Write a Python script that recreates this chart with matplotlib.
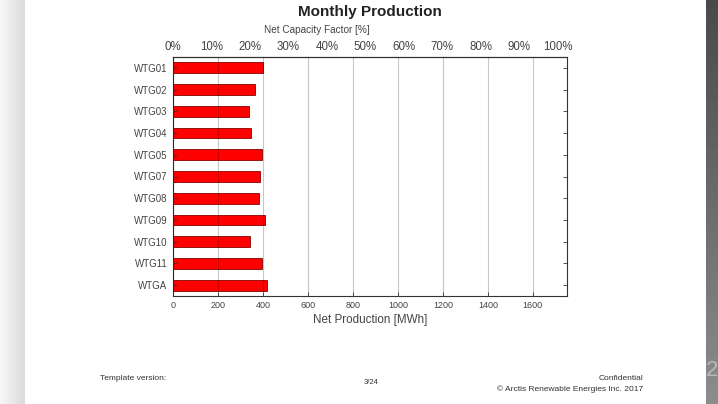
import matplotlib
import matplotlib.pyplot as plt
import numpy as np

matplotlib.use('Agg')

turbines = ["WTG01", "WTG02", "WTG03", "WTG04", "WTG05", "WTG07",
            "WTG08", "WTG09", "WTG10", "WTG11", "WTGA"]
production_mwh = [399, 364, 338, 347, 394, 385, 384, 409, 341, 396, 419]
prod_ticks = [0, 200, 400, 600, 800, 1000, 1200, 1400, 1600]
cf_ticks = [0, 10, 20, 30, 40, 50, 60, 70, 80, 90, 100]
rated_mw = 2.3
hours = 744
capacity_mwh = rated_mw * hours  # 100 % capacity factor for the month

plt.rcParams['font.family'] = ['Liberation Sans', 'DejaVu Sans']

fig = plt.figure(figsize=(7.18, 4.04), dpi=100)
fig.patch.set_facecolor('white')

# slide frame strips
left_strip = fig.add_axes([0, 0, 25 / 718, 1])
left_strip.imshow(np.linspace(0.97, 0.86, 50)[None, :], cmap='gray', vmin=0, vmax=1,
                  aspect='auto', extent=[0, 1, 0, 1])
left_strip.axis('off')
right_strip = fig.add_axes([706 / 718, 0, 12 / 718, 1])
right_strip.imshow(np.linspace(0.55, 0.29, 100)[:, None], cmap='gray', vmin=0, vmax=1,
                   aspect='auto', extent=[0, 1, 0, 1], origin='lower')
right_strip.axis('off')
fig.text(712 / 718, 1 - 370 / 404, "2", fontsize=16, color='#b8b8b8',
         ha='center', va='center')

ax = fig.add_axes([173 / 718, 1 - 296 / 404, 394 / 718, 239 / 404])
y = np.arange(len(turbines))
ax.barh(y, production_mwh, height=0.5, color='#ff0000', edgecolor='#8b0000', linewidth=0.6)
ax.set_xlim(0, 1752)
ax.set_ylim(len(turbines) - 0.5, -0.5)
ax.set_yticks(y)
ax.set_yticklabels(turbines, fontsize=7)
ax.set_xticks(prod_ticks)
ax.set_xticklabels([str(t) for t in prod_ticks], fontsize=6.5)
ax.set_axisbelow(False)
ax.grid(True, axis='x', color='black', alpha=0.22, linewidth=0.8)
ax.tick_params(direction='in', length=3, width=0.6, colors='#333333',
               labelcolor='#444444', right=True)
ax.tick_params(axis='y', pad=4)
for s in ax.spines.values():
    s.set_linewidth(0.8)
    s.set_color('#333333')
ax.set_xlabel("Net Production [MWh]", fontsize=8.4, color='#444444', labelpad=3)

top = ax.secondary_xaxis('top', functions=(lambda x: x / capacity_mwh * 100,
                                            lambda p: p * capacity_mwh / 100))
top.set_xticks(cf_ticks)
top.set_xticklabels([f"{t}%" for t in cf_ticks])
top.tick_params(direction='in', length=0, labelsize=8.3, labelcolor='#444444', pad=3)
fig.text(317 / 718, 1 - 30 / 404, "Net Capacity Factor [%]", fontsize=7.2,
         color='#444444', ha='center', va='center')
fig.text(370 / 718, 1 - 12 / 404, "Monthly Production", fontsize=11,
         fontweight='bold', color='#222222', ha='center', va='center')

# page footer
fig.text(100 / 718, 1 - 378 / 404, "Template version:", fontsize=6, color='#333333',
         ha='left', va='center')
fig.text(371 / 718, 1 - 383 / 404, "3/24", fontsize=5.5, color='#333333',
         ha='center', va='center')
fig.text(643 / 718, 1 - 378 / 404, "Confidential", fontsize=6, color='#333333',
         ha='right', va='center')
fig.text(643 / 718, 1 - 389 / 404, "\u00a9 Arctis Renewable Energies Inc. 2017",
         fontsize=6, color='#333333', ha='right', va='center')

plt.savefig("out.png", dpi=100)
